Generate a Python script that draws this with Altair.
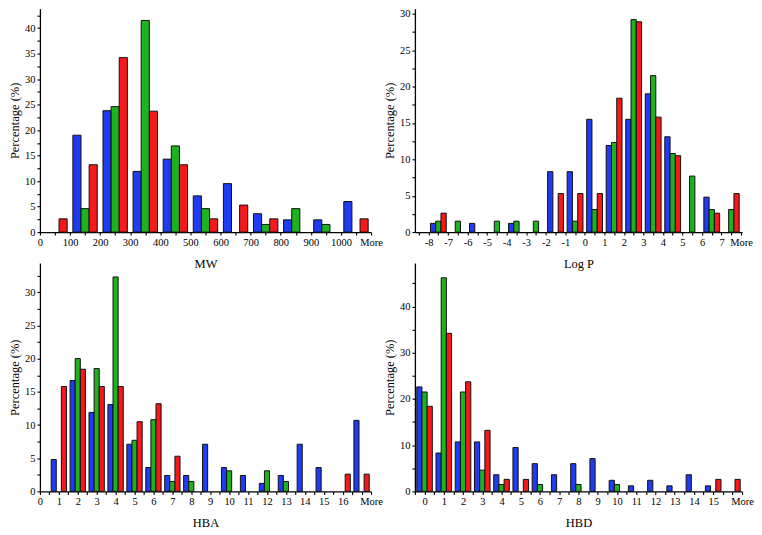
import altair as alt
import numpy as np
import pandas as pd

series_names = ["Set 1", "Set 2", "Set 3"]
series_colors = ["#1f3cf2", "#1fb21f", "#f51919"]

# ---- MW ----
mw_centers = [50, 150, 250, 350, 450, 550, 650, 750, 850, 950, 1050]
mw_blue = [0, 19.0, 23.8, 11.9, 14.3, 7.1, 9.5, 3.6, 2.4, 2.4, 6.0]
mw_green = [0, 4.6, 24.6, 41.5, 16.9, 4.6, 0, 1.5, 4.6, 1.5, 0]
mw_red = [2.6, 13.2, 34.2, 23.7, 13.2, 2.6, 5.3, 2.6, 0, 0, 2.6]
mw_label_pos = [0, 100, 200, 300, 400, 500, 600, 700, 800, 900, 1000, 1100]
mw_labels = ["0", "100", "200", "300", "400", "500", "600", "700", "800", "900", "1000", "More"]

# ---- Log P ----
logp_centers = [-7.5, -6.5, -5.5, -4.5, -3.5, -2.5, -1.5, -0.5, 0.5, 1.5, 2.5, 3.5, 4.5, 5.5, 6.5, 7.5]
logp_blue = [1.2, 0, 1.2, 0, 1.2, 0, 8.3, 8.3, 15.5, 11.9, 15.5, 19.0, 13.1, 0, 4.8, 0]
logp_green = [1.5, 1.5, 0, 1.5, 1.5, 1.5, 0, 1.5, 3.1, 12.3, 29.2, 21.5, 10.8, 7.7, 3.1, 3.1]
logp_red = [2.6, 0, 0, 0, 0, 0, 5.3, 5.3, 5.3, 18.4, 28.9, 15.8, 10.5, 0, 2.6, 5.3]
logp_label_pos = [-8, -7, -6, -5, -4, -3, -2, -1, 0, 1, 2, 3, 4, 5, 6, 7, 8]
logp_labels = ["-8", "-7", "-6", "-5", "-4", "-3", "-2", "-1", "0", "1", "2", "3", "4", "5", "6", "7", "More"]

# ---- HBA ----
hba_centers = [1, 2, 3, 4, 5, 6, 7, 8, 9, 10, 11, 12, 13, 14, 15, 16, 17]
hba_blue = [4.8, 16.7, 11.9, 13.1, 7.1, 3.6, 2.4, 2.4, 7.1, 3.6, 2.4, 1.2, 2.4, 7.1, 3.6, 0, 10.7]
hba_green = [0, 20.0, 18.5, 32.3, 7.7, 10.8, 1.5, 1.5, 0, 3.1, 0, 3.1, 1.5, 0, 0, 0, 0]
hba_red = [15.8, 18.4, 15.8, 15.8, 10.5, 13.2, 5.3, 0, 0, 0, 0, 0, 0, 0, 0, 2.6, 2.6]
hba_label_pos = [0, 1, 2, 3, 4, 5, 6, 7, 8, 9, 10, 11, 12, 13, 14, 15, 16, 17.5]
hba_labels = ["0", "1", "2", "3", "4", "5", "6", "7", "8", "9", "10", "11", "12", "13", "14", "15", "16", "More"]

# ---- HBD ----
hbd_centers = [0, 1, 2, 3, 4, 5, 6, 7, 8, 9, 10, 11, 12, 13, 14, 15, 16]
hbd_blue = [22.6, 8.3, 10.7, 10.7, 3.6, 9.5, 6.0, 3.6, 6.0, 7.1, 2.4, 1.2, 2.4, 1.2, 3.6, 1.2, 0]
hbd_green = [21.5, 46.2, 21.5, 4.6, 1.5, 0, 1.5, 0, 1.5, 0, 1.5, 0, 0, 0, 0, 0, 0]
hbd_red = [18.4, 34.2, 23.7, 13.2, 2.6, 2.6, 0, 0, 0, 0, 0, 0, 0, 0, 0, 2.6, 2.6]
hbd_label_pos = [0, 1, 2, 3, 4, 5, 6, 7, 8, 9, 10, 11, 12, 13, 14, 15, 16.5]
hbd_labels = ["0", "1", "2", "3", "4", "5", "6", "7", "8", "9", "10", "11", "12", "13", "14", "15", "More"]

FONT = "Liberation Serif, Times New Roman, serif"


def label_expr(positions, labels):
    pos = "[" + ",".join(repr(float(p)) for p in positions) + "]"
    lab = "[" + ",".join("'" + l + "'" for l in labels) + "]"
    return f"indexof({pos}, datum.value) >= 0 ? {lab}[indexof({pos}, datum.value)] : ''"


def panel(centers, blue, green, red, unit, xdomain, xticks, lpos, labs, xtitle,
          ydomain, yticks, ymajor, width, height):
    rows = []
    for i, (name, vals) in enumerate(zip(series_names, [blue, green, red])):
        for c, v in zip(centers, vals):
            rows.append({"center": c, "series": name, "idx": i, "value": v})
    df = pd.DataFrame(rows)
    bw = 0.27 * unit
    base = alt.Chart(df).transform_filter("datum.value > 0").transform_calculate(
        x0=f"datum.center + (datum.idx - 1.5) * {bw}",
        x1=f"datum.center + (datum.idx - 0.5) * {bw}",
    )
    return base.mark_bar(stroke="#111111", strokeWidth=1).encode(
        x=alt.X("x0:Q",
                scale=alt.Scale(domain=xdomain, nice=False, zero=False),
                axis=alt.Axis(values=list(xticks), labelExpr=label_expr(lpos, labs),
                              title=xtitle, labelFlush=False, labelOverlap=False,
                              titlePadding=10, labelPadding=2)),
        x2="x1:Q",
        y=alt.Y("value:Q",
                scale=alt.Scale(domain=ydomain, nice=False, zero=True),
                axis=alt.Axis(values=list(yticks),
                              labelExpr=f"datum.value % {ymajor} == 0 ? datum.label : ''",
                              title="Percentage (%)", labelOverlap=False,
                              titlePadding=3, labelPadding=2)),
        y2=alt.datum(0),
        color=alt.Color("series:N", scale=alt.Scale(domain=series_names, range=series_colors),
                        legend=None),
    ).properties(width=width, height=height)


mw = panel(mw_centers, mw_blue, mw_green, mw_red, 100, [0, 1100],
           np.arange(0, 1101, 50).tolist(), mw_label_pos, mw_labels, "MW",
           [0, 43.8], np.arange(0, 43, 2.5).tolist(), 5, 332, 224)
logp = panel(logp_centers, logp_blue, logp_green, logp_red, 1, [-8.7, 8.05],
             np.arange(-8.5, 8.01, 0.5).tolist(), logp_label_pos, logp_labels, "Log P",
             [0, 30.7], np.arange(0, 30.1, 2.5).tolist(), 5, 328, 224)
hba = panel(hba_centers, hba_blue, hba_green, hba_red, 1, [0, 17.5],
            np.arange(0, 17.51, 0.5).tolist(), hba_label_pos, hba_labels, "HBA",
            [0, 34.4], np.arange(0, 33, 2.5).tolist(), 5, 332, 229)
hbd = panel(hbd_centers, hbd_blue, hbd_green, hbd_red, 1, [-0.5, 16.5],
            np.arange(-0.5, 16.51, 0.5).tolist(), hbd_label_pos, hbd_labels, "HBD",
            [0, 49.4], np.arange(0, 46, 5).tolist(), 10, 328, 229)

chart = alt.concat(
    mw, logp, hba, hbd, columns=2,
    spacing=alt.RowColnumber(row=31, column=44), bounds="flush",
).properties(
    padding={"left": 0, "top": 0, "right": 0, "bottom": 0}
).configure_axis(
    labelFont=FONT, titleFont=FONT, labelFontSize=10.5, titleFontSize=12.5,
    titleFontWeight="normal", labelColor="black", titleColor="black",
    domainColor="black", tickColor="black", domainWidth=1.3, tickWidth=1.1,
    tickSize=3, grid=False,
).configure_view(stroke=None)

chart.save("out.html", embed_options={"renderer": "svg", "actions": False})
